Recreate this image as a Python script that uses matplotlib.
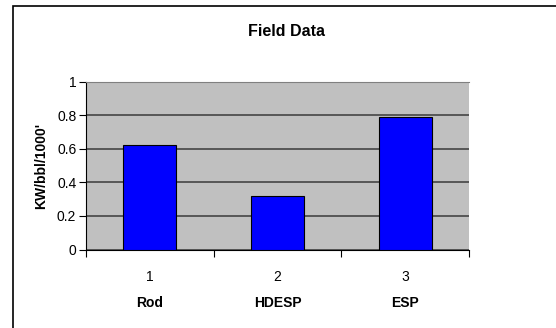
import matplotlib
matplotlib.use("Agg")
import matplotlib.pyplot as plt
from matplotlib.patches import Rectangle

# dados
categorias = ["Rod", "HDESP", "ESP"]
posicoes = [1, 2, 3]
valores = [0.62, 0.32, 0.79]
yticks = [0, 0.2, 0.4, 0.6, 0.8, 1.0]
ytick_labels = ["0", "0.2", "0.4", "0.6", "0.8", "1"]

plt.rcParams['font.family'] = ['Liberation Sans', 'DejaVu Sans']

fig = plt.figure(figsize=(5.56, 3.28), dpi=100)
fig.patch.set_facecolor("white")

# moldura do gráfico (sai pela direita/baixo da imagem)
fig.patches.append(Rectangle((13 / 556, -0.1), 1.2, (328 - 6.5) / 328 + 0.1,
                             transform=fig.transFigure, fill=False,
                             edgecolor="black", linewidth=1.2))

ax = fig.add_axes([86 / 556, (328 - 249.5) / 328, 383 / 556, 168 / 328])
ax.set_facecolor("#C0C0C0")
ax.set_axisbelow(True)

ax.bar(posicoes, valores, width=0.415, color="#0000FF", edgecolor="black",
       linewidth=0.8, zorder=3)

ax.set_xlim(0.5, 3.5)
ax.set_ylim(0, 1)
ax.set_yticks(yticks)
ax.set_yticklabels(ytick_labels, fontsize=10)
ax.yaxis.grid(True, color="#3a3a3a", linewidth=1.1)

ax.set_xticks([0.5, 1.5, 2.5, 3.5])
ax.set_xticklabels([])
ax.set_xticks(posicoes, minor=True)
ax.set_xticklabels([str(p) for p in posicoes], minor=True, fontsize=10)
ax.tick_params(axis="x", which="major", direction="out", length=5, width=0.8)
ax.tick_params(axis="x", which="minor", length=0, pad=15)
ax.tick_params(axis="y", direction="out", length=5, width=0.8, pad=2)

for p, nome in zip(posicoes, categorias):
    ax.text(p, -0.32, nome, transform=ax.get_xaxis_transform(),
            ha="center", va="center", fontsize=10, fontweight="bold")

ax.spines["top"].set_color("#808080")
ax.spines["right"].set_visible(False)
ax.spines["left"].set_color("black")
ax.spines["bottom"].set_color("black")

ax.set_ylabel("KW/bbl/1000'", fontsize=10, fontweight="bold", labelpad=6)
fig.text(287 / 556, 1 - 31 / 328, "Field Data", ha="center", va="center",
         fontsize=11.5, fontweight="bold")

fig.savefig("out.png", dpi=100)
